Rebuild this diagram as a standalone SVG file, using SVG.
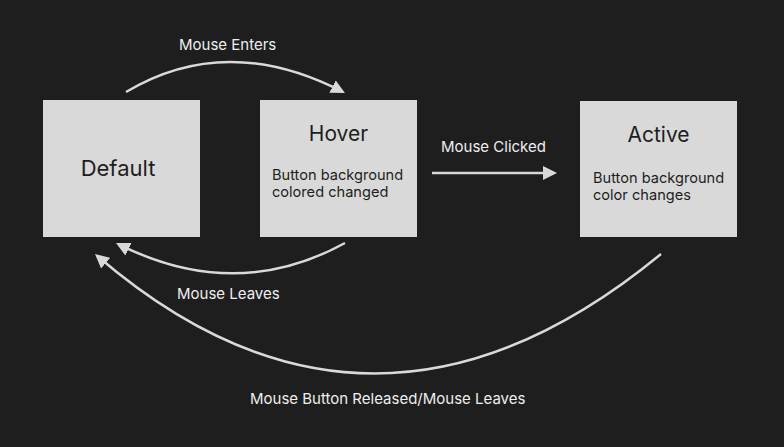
<svg xmlns="http://www.w3.org/2000/svg" width="784" height="447" viewBox="0 0 784 447">
<style>
.box{fill:#d9d9d9}
.title{font-family:Inter,"Liberation Sans",sans-serif;font-size:22px;fill:#1e1e1e;text-anchor:middle}
.body{font-family:Inter,"Liberation Sans",sans-serif;font-size:14.6px;fill:#1e1e1e}
.lbl{font-family:Inter,"Liberation Sans",sans-serif;font-size:15px;fill:#eeeeee}
.edge{fill:none;stroke:#d9d9d9;stroke-width:2.5}
</style>
<defs>
<marker id="ah" viewBox="0 0 14 14" markerWidth="14" markerHeight="14" markerUnits="userSpaceOnUse" refX="11" refY="7" orient="auto">
<path d="M0,0 L14,7 L0,14 z" fill="#d9d9d9"/>
</marker>
</defs>
<rect width="784" height="447" fill="#1e1e1e"/>
<g id="default">
<rect class="box" x="43" y="100" width="157" height="137"/>
<text class="title" x="118" y="176">Default</text>
</g>
<g id="hover">
<rect class="box" x="260" y="100" width="157" height="137"/>
<text class="title" x="338.5" y="141" style="font-size:21px">Hover</text>
<text class="body" x="272" y="179.5">Button background</text>
<text class="body" x="272" y="197.3">colored changed</text>
</g>
<g id="active">
<rect class="box" x="580" y="101" width="157" height="136"/>
<text class="title" x="658.5" y="142" style="font-size:21px">Active</text>
<text class="body" x="593" y="182.5">Button background</text>
<text class="body" x="593" y="200.3">color changes</text>
</g>
<g id="connectors">
<path class="edge" d="M126,92 Q226,32 342.3,91.6" marker-end="url(#ah)"/>
<path class="edge" d="M432,173 L554,173" marker-end="url(#ah)"/>
<path class="edge" d="M345,243 Q235.5,303 118.7,244.3" marker-end="url(#ah)"/>
<path class="edge" d="M661,254 Q372,492 97.3,256" marker-end="url(#ah)"/>
<text class="lbl" x="179" y="50">Mouse Enters</text>
<text class="lbl" x="441" y="152">Mouse Clicked</text>
<text class="lbl" x="177" y="299">Mouse Leaves</text>
<text class="lbl" x="250" y="404">Mouse Button Released/Mouse Leaves</text>
</g>
</svg>
